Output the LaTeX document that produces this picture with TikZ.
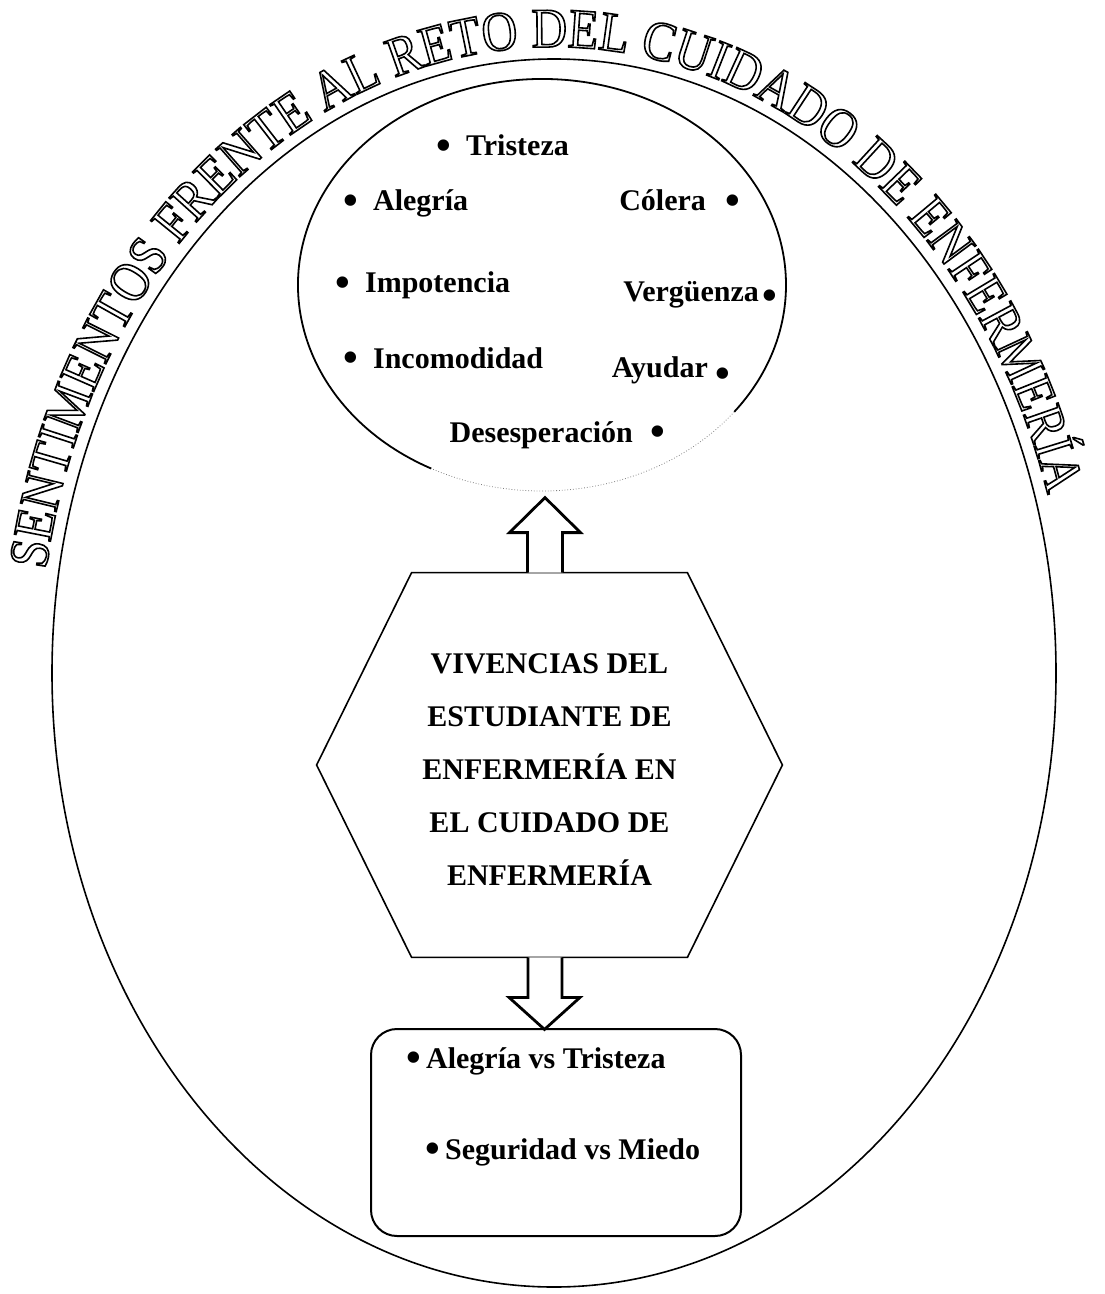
\documentclass[tikz,border=0pt]{standalone}
\usepackage{fontspec}
\setmainfont{Liberation Serif}
\newfontfamily\titlefont[FakeStretch=0.88]{Liberation Serif}
\usetikzlibrary{calc,decorations.text}

\makeatletter
\newcommand\outlineon{\pgfsys@invoke{1 Tr 0.8 w}}
\makeatother
\newcommand\bul{\raisebox{-1.8pt}{\scalebox{1.4}{\textbullet}}}

\tikzset{
	item/.style={font=\fontsize{15}{18}\selectfont\bfseries, inner sep=0pt},
	hexshape/.style={inner sep=0pt, minimum width=232.5pt, minimum height=192pt},
	hexlabel/.style={font=\fontsize{15}{26.5}\selectfont\bfseries, align=center, inner sep=0pt},
	blockarrow/.style={draw, line width=1.4pt, fill=white, line join=miter},
}

\begin{document}
\begin{tikzpicture}[x=0.5pt, y=-0.5pt]
	\useasboundingbox (0,0) rectangle (1104,1294);
	\draw[line width=0.8pt] (554,673) ellipse [x radius=502, y radius=614];
	\begin{scope}
		\outlineon
		\path[decorate, decoration={text along path, text align={fit to path},
			text={|\titlefont\fontsize{28}{28}\selectfont|SENTIMENTOS FRENTE AL RETO DEL CUIDADO DE ENFERMERÍA}}]
			(554,673) ++(189.5:515 and 626) arc[start angle=189.5, end angle=343, x radius=515, y radius=626];
	\end{scope}

	\draw[line width=0.9pt] (542,285) ++(117:244 and 206) arc[start angle=117, end angle=398, x radius=244, y radius=206];
	\draw[gray, densely dotted] (542,285) ++(38:244 and 206) arc[start angle=38, end angle=117, x radius=244, y radius=206];

	\node[item, anchor=base west] (tristeza) at (436,156) {\bul\ \ Tristeza};
	\node[item, anchor=base west] (alegria) at (343,211) {\bul\ \ Alegría};
	\node[item, anchor=base east] (colera) at (741,211) {Cólera\hspace{10pt}\bul};
	\node[item, anchor=base west] (impotencia) at (335,293) {\bul\ \ Impotencia};
	\node[item, anchor=base east] (verguenza) at (778,302) {Vergüenza\hspace{2pt}\raisebox{-2pt}{\bul}};
	\node[item, anchor=base west] (incomodidad) at (343,368) {\bul\ \ Incomodidad};
	\node[item, anchor=base east] (ayudar) at (731,378) {Ayudar\hspace{4pt}\raisebox{-3pt}{\bul}};
	\node[item, anchor=base east] (desesperacion) at (666,442) {Desesperación\hspace{9pt}\bul};

	\node[hexshape] (hex) at (549.5,765) {};
	\node[hexlabel] (vivencias) at (549.5,770) {VIVENCIAS DEL\\ESTUDIANTE DE\\ENFERMERÍA EN\\EL CUIDADO DE\\ENFERMERÍA};
	\draw[line width=0.8pt] (hex.west) -- ($(hex.north west)+(95,0)$) -- ($(hex.north east)+(-95,0)$) -- (hex.east)
		-- ($(hex.south east)+(-95,0)$) -- ($(hex.south west)+(95,0)$) -- cycle;

	\draw[blockarrow] ($(hex.north)+(-22,0)$) -- ++(0,-40) -- ++(-18,0) -- ++(35.5,-35) -- ++(35.5,35) -- ++(-18,0) -- ++(0,40);
	\draw[blockarrow] ($(hex.south)+(-21.5,0)$) -- ++(0,40) -- ++(-19,0) -- ++(35.5,32) -- ++(35.5,-32) -- ++(-18,0) -- ++(0,-40);

	\node[draw, rounded corners=13pt, line width=1pt, minimum width=185pt, minimum height=103.5pt] (outcome) at (556,1132.5) {};
	\node[item, anchor=base west] (alegriavs) at (406,1068) {\bul\,Alegría vs Tristeza};
	\node[item, anchor=base west] (seguridad) at (425,1159) {\bul\,Seguridad vs Miedo};
\end{tikzpicture}
\end{document}
